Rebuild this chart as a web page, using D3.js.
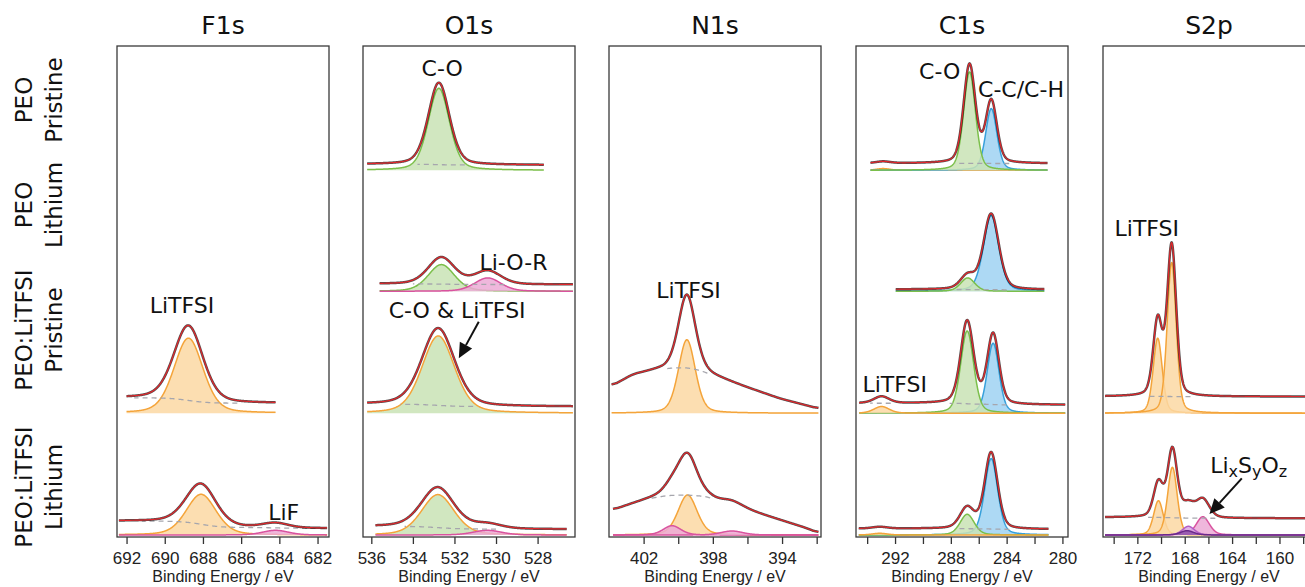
<!DOCTYPE html>
<html>
<head>
<meta charset="utf-8">
<script src="https://cdn.jsdelivr.net/npm/d3@7"></script>
<style>
  html, body { margin: 0; padding: 0; background: #fff; }
  svg { display: block; }
</style>
</head>
<body>
<svg id="chart" width="1305" height="587"></svg>
<script>
// XPS core levels of PEO and PEO:LiTFSI, pristine and after contact with lithium

var regions = ["F1s", "O1s", "N1s", "C1s", "S2p"];
var sampleNames = [["PEO", "Pristine"], ["PEO", "Lithium"], ["PEO:LiTFSI", "Pristine"], ["PEO:LiTFSI", "Lithium"]];

// binding energy window of each panel, eV (high -> low)
var energyDomains = [[692.5, 681.4], [536.4, 526.2], [404, 391.75], [294.8, 279.6], [174.9, 157]];
var tickValues = [
  [692, 690, 688, 686, 684, 682],
  [536, 534, 532, 530, 528],
  [402, 400, 398, 396, 394, 392],
  [294, 292, 290, 288, 286, 284, 282, 280],
  [174, 172, 170, 168, 166, 164, 162, 160, 158]
];
var tickLabels = [
  [692, 690, 688, 686, 684, 682],
  [536, 534, 532, 530, 528],
  [402, 398, 394],
  [292, 288, 284, 280],
  [172, 168, 164, 160]
];

// fitted spectra: panel, row, measured range (eV), background (Shirley ends or knots),
// dashed background spans, components [species, centre eV, height, FWHM eV]
var spectra = [
  {p: 0, r: 2, range: [692, 684.2], bg: [15.4, 10], dash: [[691.6, 686.2]],
    comps: [["LiTFSI", 688.76, 75, 1.8]]},
  {p: 0, r: 3, range: [692.4, 681.5], bg: [14, 6.7], dash: [[691.2, 681.6]],
    comps: [["LiTFSI", 688.1, 40.7, 1.85], ["pink", 684.2, 4.7, 1.6]]},

  {p: 1, r: 0, range: [536.2, 527.7], bg: [6, 5.3], dash: [[533.8, 531.5]],
    comps: [["CO", 532.75, 82, 1.2]]},
  {p: 1, r: 1, range: [535.6, 526.3], bg: [7.4, 6.7], dash: [[534, 529.6]],
    comps: [["CO", 532.63, 26.7, 1.5], ["pink", 530.4, 13.4, 1.5]]},
  {p: 1, r: 2, range: [536.2, 526.3], bg: [9, 6.6], dash: [[534.6, 531.1]],
    comps: [["CO_LiTFSI", 532.78, 77.3, 1.85]]},
  {p: 1, r: 3, range: [535.8, 526.6], bg: [8.7, 5.7], dash: [[534.4, 530]],
    comps: [["CO_LiTFSI", 532.8, 40.4, 1.85], ["pink", 530.42, 4.7, 1.6]]},

  {p: 2, r: 2, range: [403.85, 391.9],
    knots: [[403.85, 27], [402.6, 38.5], [401.2, 43.5], [400.3, 45.3], [399.5, 45.5], [398.7, 42.7],
            [398, 37.7], [396.2, 26.7], [394.1, 14.4], [392.2, 6], [391.9, 4.5]],
    dash: [[400.65, 398.3]],
    comps: [["LiTFSI", 399.5, 73.4, 1.15]]},
  {p: 2, r: 3, range: [403.77, 391.9],
    knots: [[403.77, 25], [402.58, 31.7], [401.6, 36.7], [400.6, 39.5], [399.5, 40], [398.35, 38.5],
            [397.6, 33], [396.8, 29.5], [395.65, 23.3], [394.1, 15], [392.57, 6.7], [391.9, 2]],
    dash: [[401.6, 398.15]],
    comps: [["LiTFSI", 399.46, 40, 1.3], ["pink", 400.36, 9.3, 1.2], ["pink", 396.9, 4, 1.5]]},

  {p: 3, r: 0, range: [293.76, 281.07], bg: [7, 6.8], dash: [[287.7, 283.8]],
    comps: [["LiTFSI", 292.86, 1.7, 1.2], ["CC", 285.1, 61.7, 0.95], ["CO", 286.66, 98.3, 1.0]]},
  {p: 3, r: 1, range: [291.95, 281.3], bg: [1.8, 1.5], dash: [[287.9, 284]],
    comps: [["CC", 285.11, 75.7, 1.3], ["CO", 286.79, 13.4, 1.2]]},
  {p: 3, r: 2, range: [294.57, 279.8], bg: [10, 8.3], dash: [[293.8, 292.3], [288.1, 284]],
    comps: [["CC", 284.97, 70, 1.0], ["CO", 286.83, 82.3, 1.1], ["LiTFSI", 292.97, 6.7, 1.3]]},
  {p: 3, r: 3, range: [294.6, 281], bg: [6.4, 5.7], dash: [[287.4, 283.8]],
    comps: [["CC", 285.11, 76.4, 1.1], ["CO", 286.83, 20.7, 1.2], ["LiTFSI", 293.1, 1.7, 1.3]]},

  {p: 4, r: 2, range: [174.73, 157.2], bg: [16.8, 16.6], dash: [[171.2, 167.5]],
    comps: [["LiTFSI", 170.28, 75, 0.9], ["LiTFSI", 169.1, 150.7, 0.9]]},
  {p: 4, r: 3, range: [174.73, 157.2], bg: [17.7, 16.7], dash: [[171.1, 165.4]],
    comps: [["LiTFSI", 170.22, 34.3, 0.95], ["LiTFSI", 169.04, 67.7, 0.95], ["pink", 166.47, 18.3, 1.3],
            ["lilac", 167.69, 8.7, 1.2], ["purple", 167.8, 4.3, 1.3]]}
];

// peak labels, placed in data units (eV, intensity above the row zero)
var annotations = [
  {p: 0, r: 2, text: "LiTFSI", e: 689.1, v: 108},
  {p: 0, r: 3, text: "LiF", e: 683.77, v: 23},
  {p: 1, r: 0, text: "C-O", e: 532.59, v: 102.3},
  {p: 1, r: 1, text: "Li-O-R", e: 529.16, v: 29.3},
  {p: 1, r: 2, text: "C-O & LiTFSI", e: 531.87, v: 103.2},
  {p: 2, r: 2, text: "LiTFSI", e: 399.4, v: 123.2},
  {p: 3, r: 0, text: "C-O", e: 288.8, v: 99.3},
  {p: 3, r: 0, text: "C-C/C-H", e: 282.97, v: 81.3},
  {p: 3, r: 2, text: "LiTFSI", e: 292.02, v: 29.2},
  {p: 4, r: 2, text: "LiTFSI", e: 171.2, v: 185.2},
  {p: 4, r: 3, text: ["Li", "x", "S", "y", "O", "z"], e: 162.6, v: 70}
];
var arrows = [
  {p: 1, r: 2, from: [530.83, 91.5], to: [531.79, 54.9]},
  {p: 4, r: 3, from: [163.18, 56.7], to: [165.91, 21]}
];

var species = {
  LiTFSI:    {stroke: "#f4a43a", fill: "#fbd8a3"},
  CO:        {stroke: "#7bbf4a", fill: "#c9e3b5"},
  CO_LiTFSI: {stroke: "#f4a43a", fill: "#c9e3b5"},
  CC:        {stroke: "#37a0db", fill: "#9fd2f2"},
  pink:      {stroke: "#d9539f", fill: "#ecaad6"},
  lilac:     {stroke: "#b35ec5", fill: "#d9a7e3"},
  purple:    {stroke: "#6a2a8a", fill: "#8f51a9"}
};

// layout
var panelX = [117, 363, 609, 856, 1103], panelW = 212;
var panelTop = 46, panelBottom = 537;
var rowBase = [170.3, 291.3, 413.2, 535];
var rowLabelY = [100, 205, 330, 487];
var mix = 0.3; // Gaussian-Lorentzian mix of the fitted line shape

var svg = d3.select("#chart");
var labelFont = "'DejaVu Sans', Verdana, sans-serif";
var axisFont = "'Liberation Sans', Arial, sans-serif";

function profile(c, e) {
  var t = (e - c.center) / c.fwhm;
  return c.height * ((1 - mix) * Math.exp(-4 * Math.LN2 * t * t) + mix / (1 + 4 * t * t));
}

var xs = regions.map(function (name, i) {
  return d3.scaleLinear().domain(energyDomains[i]).range([panelX[i], panelX[i] + panelW]);
});
function yScale(r) {
  return d3.scaleLinear().domain([0, 100]).range([rowBase[r], rowBase[r] - 100]);
}

// row labels
sampleNames.forEach(function (lines, i) {
  lines.forEach(function (t, j) {
    svg.append("text")
      .attr("transform", "translate(" + (j === 0 ? 32 : 62) + "," + rowLabelY[i] + ") rotate(-90)")
      .attr("text-anchor", "middle")
      .style("font-family", labelFont)
      .style("font-size", "23px")
      .style("fill", "#111")
      .text(t);
  });
});

// panels
regions.forEach(function (name, i) {
  var x = xs[i];
  var g = svg.append("g").attr("class", "panel");

  g.append("text")
    .attr("x", panelX[i] + panelW / 2)
    .attr("y", 34)
    .attr("text-anchor", "middle")
    .style("font-family", labelFont)
    .style("font-size", "25px")
    .style("fill", "#111")
    .text(name);

  var axis = d3.axisBottom(x)
    .tickValues(tickValues[i])
    .tickSize(7)
    .tickSizeOuter(0)
    .tickPadding(8)
    .tickFormat(function (d) { return tickLabels[i].indexOf(d) >= 0 ? d : ""; });
  var ag = g.append("g").attr("transform", "translate(0," + panelBottom + ")").call(axis);
  ag.select(".domain").remove();
  ag.selectAll("line").attr("stroke", "#333").attr("stroke-width", 1.3);
  ag.selectAll("text")
    .style("font-family", axisFont)
    .style("font-size", "17px")
    .style("fill", "#222");

  g.append("text")
    .attr("x", panelX[i] + panelW / 2)
    .attr("y", 582)
    .attr("text-anchor", "middle")
    .style("font-family", axisFont)
    .style("font-size", "16px")
    .style("fill", "#222")
    .text("Binding Energy / eV");

  g.append("rect")
    .attr("x", panelX[i]).attr("y", panelTop)
    .attr("width", panelW).attr("height", panelBottom - panelTop)
    .attr("fill", "none").attr("stroke", "#3a3a3a").attr("stroke-width", 1.3);
});

// spectra
spectra.forEach(function (s) {
  var x = xs[s.p], y = yScale(s.r);
  var hi = s.range[0], lo = s.range[1];
  var n = Math.round((hi - lo) / 0.02);
  var grid = d3.range(n + 1).map(function (k) { return lo + (hi - lo) * k / n; });
  var comps = s.comps.map(function (c) {
    return {sp: c[0], center: c[1], height: c[2], fwhm: c[3]};
  });
  var sum = grid.map(function (e) {
    return d3.sum(comps, function (c) { return profile(c, e); });
  });

  var bg;
  if (s.knots) {
    var k = d3.scaleLinear()
      .domain(s.knots.map(function (d) { return d[0]; }))
      .range(s.knots.map(function (d) { return d[1]; }));
    var raw = grid.map(function (e) { return k(e); });
    // soften the corners between knots (running mean over +-0.3 eV)
    var w = 15;
    bg = raw.map(function (v, j) {
      return d3.mean(raw.slice(Math.max(0, j - w), Math.min(raw.length, j + w + 1)));
    });
  } else {
    // Shirley: step follows the integrated peak area from the low energy side
    var tot = d3.sum(sum), cum = 0;
    bg = sum.map(function (v) { cum += v; return s.bg[1] + (s.bg[0] - s.bg[1]) * cum / tot; });
  }

  var g = svg.append("g");
  var line = d3.line().x(function (d) { return x(d[0]); }).y(function (d) { return y(d[1]); });

  comps.forEach(function (c) {
    var st = species[c.sp];
    var pts = grid.map(function (e) { return [e, profile(c, e)]; });
    g.append("path")
      .attr("d", d3.area().x(function (d) { return x(d[0]); }).y0(y(0)).y1(function (d) { return y(d[1]); })(pts))
      .attr("fill", st.fill).attr("fill-opacity", 0.85);
    g.append("path")
      .attr("d", line(pts))
      .attr("fill", "none").attr("stroke", st.stroke).attr("stroke-width", 1.5);
  });

  s.dash.forEach(function (span) {
    var pts = [];
    grid.forEach(function (e, j) { if (e <= span[0] && e >= span[1]) pts.push([e, bg[j]]); });
    g.append("path")
      .attr("d", line(pts))
      .attr("fill", "none").attr("stroke", "#a6a6ad").attr("stroke-width", 1.3)
      .attr("stroke-dasharray", "5,4");
  });

  var env = grid.map(function (e, j) { return [e, sum[j] + bg[j]]; });
  g.append("path").attr("d", line(env))
    .attr("fill", "none").attr("stroke", "#1a1111").attr("stroke-width", 2.5)
    .attr("stroke-opacity", 0.75);
  g.append("path").attr("d", line(env))
    .attr("fill", "none").attr("stroke", "#e2262b").attr("stroke-width", 1.2);
});

// peak labels
annotations.forEach(function (a) {
  var t = svg.append("text")
    .attr("x", xs[a.p](a.e))
    .attr("y", yScale(a.r)(a.v))
    .attr("dy", "0.35em")
    .attr("text-anchor", "middle")
    .style("font-family", labelFont)
    .style("font-size", "22px")
    .style("fill", "#111");
  if (typeof a.text === "string") {
    t.text(a.text);
  } else {
    a.text.forEach(function (part, j) {
      var sub = j % 2 === 1;
      t.append("tspan")
        .attr("dy", sub ? 4 : (j > 0 ? -4 : null))
        .style("font-size", sub ? "16px" : "22px")
        .text(part);
    });
  }
});

// arrows
arrows.forEach(function (a) {
  var x = xs[a.p], y = yScale(a.r);
  var x0 = x(a.from[0]), y0 = y(a.from[1]), x1 = x(a.to[0]), y1 = y(a.to[1]);
  var dx = x1 - x0, dy = y1 - y0, len = Math.sqrt(dx * dx + dy * dy);
  var ux = dx / len, uy = dy / len, head = 15, half = 7;
  var bx = x1 - ux * head, by = y1 - uy * head;
  svg.append("line")
    .attr("x1", x0).attr("y1", y0).attr("x2", bx).attr("y2", by)
    .attr("stroke", "#111").attr("stroke-width", 2);
  svg.append("path")
    .attr("d", "M" + x1 + "," + y1 +
      "L" + (bx - uy * half) + "," + (by + ux * half) +
      "L" + (bx + uy * half) + "," + (by - ux * half) + "Z")
    .attr("fill", "#111");
});
</script>
</body>
</html>
